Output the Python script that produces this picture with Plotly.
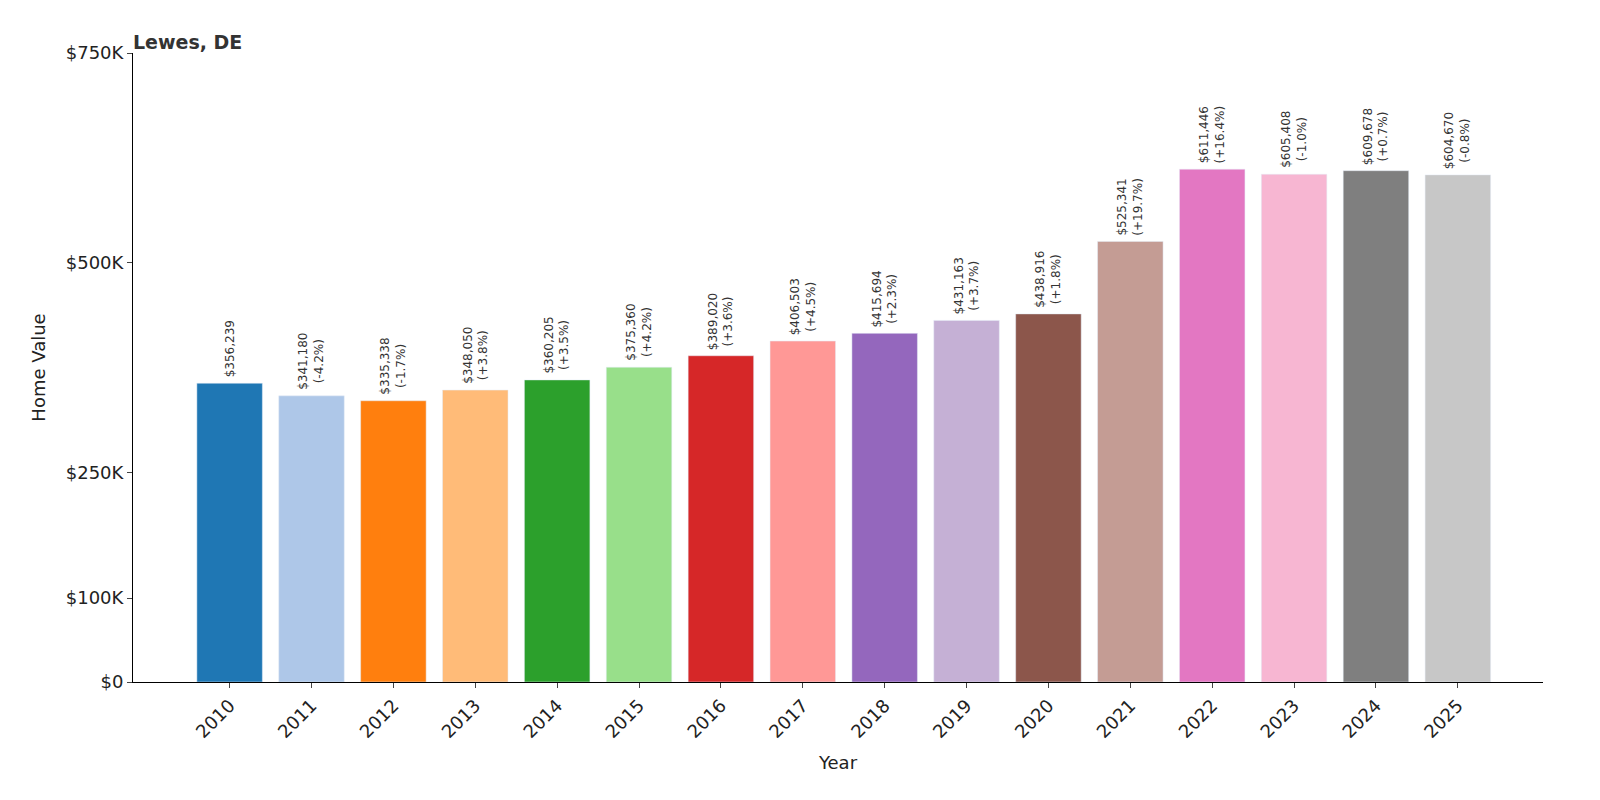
import plotly.graph_objects as go

years = [str(y) for y in range(2010, 2026)]
values = [356239, 341180, 335338, 348050, 360205, 375360, 389020, 406503,
          415694, 431163, 438916, 525341, 611446, 605408, 609678, 604670]
changes = [None, "-4.2%", "-1.7%", "+3.8%", "+3.5%", "+4.2%", "+3.6%", "+4.5%",
           "+2.3%", "+3.7%", "+1.8%", "+19.7%", "+16.4%", "-1.0%", "+0.7%", "-0.8%"]
colors = ["#1f77b4", "#aec7e8", "#ff7f0e", "#ffbb78", "#2ca02c", "#98df8a",
          "#d62728", "#ff9896", "#9467bd", "#c5b0d5", "#8c564b", "#c49c94",
          "#e377c2", "#f7b6d2", "#7f7f7f", "#c7c7c7"]
tick_vals = [0, 100000, 250000, 500000, 750000]
tick_text = ["$0", "$100K", "$250K", "$500K", "$750K"]

xs = list(range(len(years)))
fig = go.Figure(go.Bar(x=xs, y=values, marker_color=colors, width=0.8))

for i, (v, c) in enumerate(zip(values, changes)):
    txt = f"${v:,}" if c is None else f"${v:,}<br>({c})"
    fig.add_annotation(x=i, y=v, text=txt, textangle=-90, showarrow=False,
                       yanchor="bottom", yshift=4, font=dict(size=12, color="#333"))

fig.update_layout(
    width=1600, height=800, plot_bgcolor="white", paper_bgcolor="white",
    margin=dict(l=125, r=65, t=45, b=126),
    font=dict(family="DejaVu Sans", color="#222"),
    showlegend=False,
    title=dict(text="<b>Lewes, DE</b>", x=125/1600, xanchor="left", y=0.965,
               font=dict(size=19, color="#333")),
    xaxis=dict(tickmode="array", tickvals=xs, ticktext=years, tickangle=-45,
               range=[-1.18, 16.04], showline=True, linecolor="black",
               ticks="outside", tickfont=dict(size=18),
               title=dict(text="Year", font=dict(size=18))),
    yaxis=dict(tickmode="array", tickvals=tick_vals, ticktext=tick_text,
               range=[0, 750000], showline=True, linecolor="black",
               ticks="outside", showgrid=False, zeroline=False,
               tickfont=dict(size=18),
               title=dict(text="Home Value", font=dict(size=18))),
)
fig.write_html("out.html")
